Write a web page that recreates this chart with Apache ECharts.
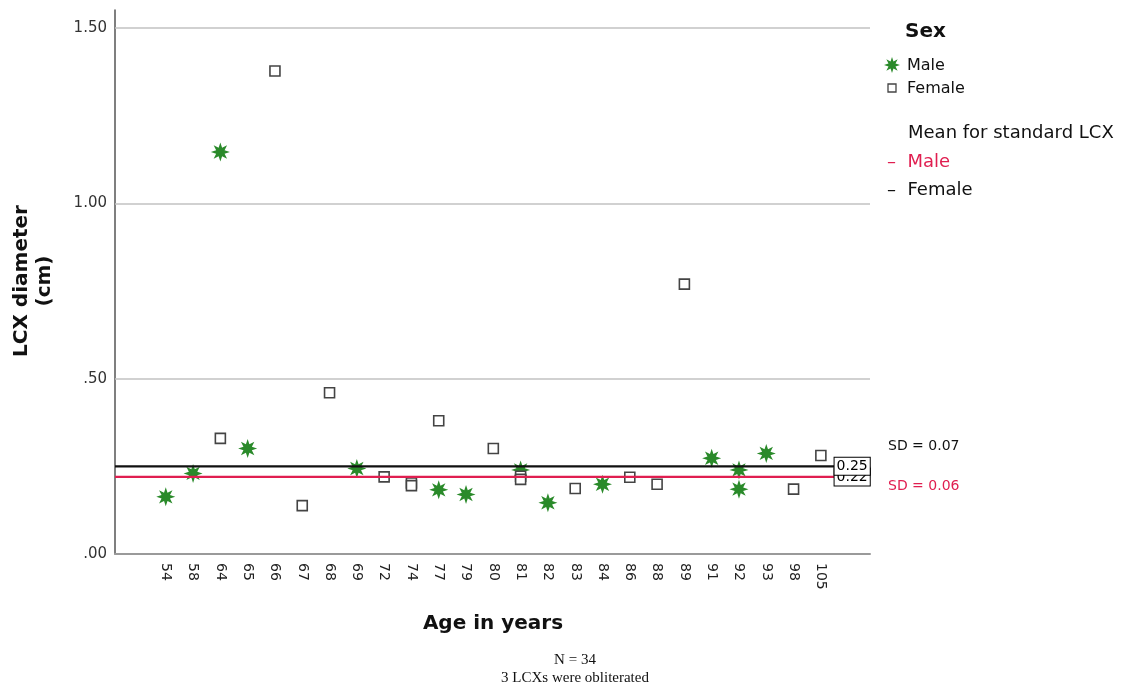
<!DOCTYPE html>
<html>
<head>
<meta charset="utf-8">
<script src="https://cdn.jsdelivr.net/npm/echarts@6/dist/echarts.min.js"></script>
<style>
  html, body { margin: 0; padding: 0; background: #fff; }
  #chart { width: 1142px; height: 691px; }
</style>
</head>
<body>
<div id="chart"></div>
<script>
// Age categories along the x axis
const ages = ['54', '58', '64', '65', '66', '67', '68', '69', '72', '74', '77', '79', '80',
              '81', '82', '83', '84', '86', '88', '89', '91', '92', '93', '98', '105'];

// LCX diameter (cm) per patient, male
const maleAges = [54, 58, 64, 65, 69, 77, 79, 81, 82, 84, 91, 92, 92, 93];
const maleDiameters = [0.163, 0.230, 1.147, 0.301, 0.244, 0.183, 0.170, 0.240, 0.146, 0.199, 0.273, 0.240, 0.185, 0.287];

// LCX diameter (cm) per patient, female
const femaleAges = [64, 66, 67, 68, 72, 74, 74, 77, 80, 81, 81, 83, 86, 88, 89, 98, 105];
const femaleDiameters = [0.330, 1.378, 0.138, 0.460, 0.220, 0.203, 0.195, 0.380, 0.301, 0.222, 0.213, 0.187, 0.219, 0.199, 0.770, 0.185, 0.281];

// Mean and SD for the standard LCX
const meanMale = 0.22, meanFemale = 0.25;
const sdMale = 0.06, sdFemale = 0.07;

// Y axis ticks and their printed labels
const yTicks = [0, 0.5, 1.0, 1.5];
const yTickLabels = ['.00', '.50', '1.00', '1.50'];
const gridValues = [0.5, 1.0, 1.5];

const FONT = 'DejaVu Sans';
const GREEN = '#2a8a2a';
const RED = '#e01e50';
const X_MIN = -1.86, X_MAX = 25.8;

// eight-pointed star marker
function starPoints(cx, cy, rOuter, rInner) {
  const pts = [];
  for (let i = 0; i < 16; i++) {
    const a = -Math.PI / 2 + i * Math.PI / 8;
    const r = i % 2 === 0 ? rOuter : rInner;
    pts.push([cx + r * Math.cos(a), cy + r * Math.sin(a)]);
  }
  return pts;
}
const starPath = 'path://' + starPoints(50, 50, 50, 24)
  .map((p, i) => (i === 0 ? 'M' : 'L') + p[0].toFixed(2) + ' ' + p[1].toFixed(2)).join(' ') + ' Z';

const idx = a => ages.indexOf(String(a));
const maleData = maleAges.map((a, i) => [idx(a), maleDiameters[i]]);
const femaleData = femaleAges.map((a, i) => [idx(a), femaleDiameters[i]]);

const chart = echarts.init(document.getElementById('chart'), null, { renderer: 'canvas' });

// boxed value tag drawn at the right end of each mean line
const meanLabel = {
  show: true,
  position: 'left',
  distance: 0,
  formatter: p => p.value[1].toFixed(2),
  fontFamily: FONT,
  fontSize: 14,
  color: '#000',
  opacity: 1,
  backgroundColor: '#fff',
  borderColor: '#000',
  borderWidth: 1,
  padding: [2, 2, 1, 2]
};

chart.setOption({
  animation: false,
  backgroundColor: '#fff',
  textStyle: { fontFamily: FONT },
  grid: { left: 115, right: 272, top: 10, bottom: 137, containLabel: false },
  xAxis: {
    type: 'value',
    min: X_MIN,
    max: X_MAX,
    axisLine: { show: true, onZero: false, lineStyle: { color: '#9a9a9a', width: 2 } },
    axisTick: { show: false },
    splitLine: { show: false },
    axisLabel: {
      customValues: ages.map((_, i) => i),
      formatter: v => ages[Math.round(v)] || '',
      rotate: -90,
      fontFamily: FONT,
      fontSize: 14,
      color: '#222',
      margin: 9
    }
  },
  yAxis: {
    type: 'value',
    min: 0,
    max: 1.552,
    axisLine: { show: true, onZero: false, lineStyle: { color: '#555', width: 1.5 } },
    axisTick: { show: false },
    splitLine: { show: false },
    axisLabel: {
      customValues: yTicks,
      formatter: v => yTickLabels[yTicks.indexOf(v)] || '',
      fontFamily: FONT,
      fontSize: 15,
      color: '#333',
      margin: 8
    }
  },
  series: [
    {
      name: 'grid',
      type: 'scatter',
      data: [],
      silent: true,
      z: 1,
      markLine: {
        silent: true,
        symbol: 'none',
        animation: false,
        label: { show: false },
        lineStyle: { color: '#c2c2c2', width: 1.5, type: 'solid' },
        data: gridValues.map(v => ({ yAxis: v }))
      }
    },
    {
      name: 'Male',
      type: 'scatter',
      data: maleData,
      symbol: starPath,
      symbolSize: 19,
      itemStyle: { color: GREEN, opacity: 1 },
      z: 2
    },
    {
      name: 'Female',
      type: 'scatter',
      data: femaleData,
      symbol: 'rect',
      symbolSize: 10,
      itemStyle: { color: '#fff', borderColor: '#444', borderWidth: 1.6, opacity: 1 },
      z: 3
    },
    {
      name: 'Mean female',
      type: 'line',
      data: [[X_MIN, meanFemale], [X_MAX, meanFemale]],
      symbol: 'none',
      lineStyle: { color: '#111', width: 2.2 },
      silent: true,
      z: 4
    },
    {
      name: 'Mean male',
      type: 'line',
      data: [[X_MIN, meanMale], [X_MAX, meanMale]],
      symbol: 'none',
      lineStyle: { color: RED, width: 2.4 },
      silent: true,
      z: 4
    },
    {
      name: 'Mean male label',
      type: 'scatter',
      data: [[X_MAX, meanMale]],
      symbolSize: 0.5,
      itemStyle: { color: '#000', opacity: 1 },
      clip: false,
      silent: true,
      label: meanLabel,
      z: 5
    },
    {
      name: 'Mean female label',
      type: 'scatter',
      data: [[X_MAX, meanFemale]],
      symbolSize: 0.5,
      itemStyle: { color: '#000', opacity: 1 },
      clip: false,
      silent: true,
      label: meanLabel,
      z: 6
    }
  ],
  graphic: [
    // axis titles
    {
      type: 'text', x: 33, y: 281, rotation: Math.PI / 2,
      style: { text: 'LCX diameter\n(cm)', font: 'bold 20px "DejaVu Sans"', fill: '#111',
               align: 'center', verticalAlign: 'middle', lineHeight: 23 }
    },
    {
      type: 'text', x: 493, y: 624,
      style: { text: 'Age in years', font: 'bold 20px "DejaVu Sans"', fill: '#111',
               align: 'center', verticalAlign: 'middle' }
    },
    // footnotes
    {
      type: 'text', x: 575, y: 660,
      style: { text: 'N = ' + (maleAges.length + femaleAges.length + 3), font: '15px "Liberation Serif"', fill: '#111',
               align: 'center', verticalAlign: 'middle' }
    },
    {
      type: 'text', x: 575, y: 678,
      style: { text: '3 LCXs were obliterated', font: '15px "Liberation Serif"', fill: '#111',
               align: 'center', verticalAlign: 'middle' }
    },
    // SD annotations
    {
      type: 'text', x: 888, y: 446,
      style: { text: 'SD = ' + sdFemale.toFixed(2), font: '14px "DejaVu Sans"', fill: '#111', verticalAlign: 'middle' }
    },
    {
      type: 'text', x: 888, y: 486,
      style: { text: 'SD = ' + sdMale.toFixed(2), font: '14px "DejaVu Sans"', fill: RED, verticalAlign: 'middle' }
    },
    // legend
    {
      type: 'text', x: 905, y: 32,
      style: { text: 'Sex', font: 'bold 20px "DejaVu Sans"', fill: '#111', verticalAlign: 'middle' }
    },
    {
      type: 'polygon', shape: { points: starPoints(892, 65, 8, 3.8) }, style: { fill: GREEN }
    },
    {
      type: 'text', x: 907, y: 66,
      style: { text: 'Male', font: '16px "DejaVu Sans"', fill: '#111', verticalAlign: 'middle' }
    },
    {
      type: 'rect', shape: { x: 888, y: 84, width: 8, height: 8 },
      style: { fill: '#fff', stroke: '#444', lineWidth: 1.3 }
    },
    {
      type: 'text', x: 907, y: 89,
      style: { text: 'Female', font: '16px "DejaVu Sans"', fill: '#111', verticalAlign: 'middle' }
    },
    {
      type: 'text', x: 908, y: 133,
      style: { text: 'Mean for standard LCX', font: '18px "DejaVu Sans"', fill: '#111', verticalAlign: 'middle' }
    },
    {
      type: 'text', x: 887, y: 162,
      style: { text: '–  Male', font: '18px "DejaVu Sans"', fill: RED, verticalAlign: 'middle' }
    },
    {
      type: 'text', x: 887, y: 190,
      style: { text: '–  Female', font: '18px "DejaVu Sans"', fill: '#111', verticalAlign: 'middle' }
    }
  ]
});
</script>
</body>
</html>
